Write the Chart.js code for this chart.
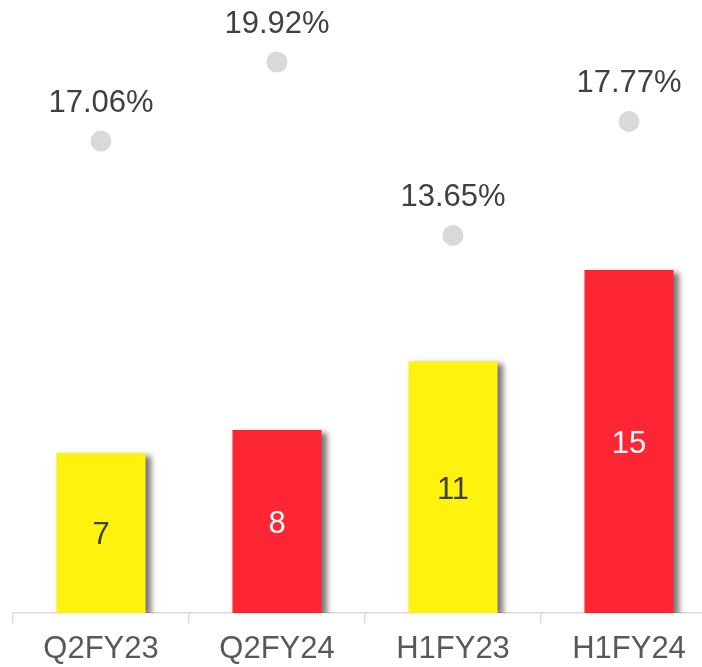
<!DOCTYPE html>
<html>
<head>
<meta charset="utf-8">
<script src="https://cdn.jsdelivr.net/npm/chart.js@4/dist/chart.umd.min.js"></script>
<style>
  html, body { margin: 0; padding: 0; overflow: hidden; background: #fff; }
  #wrap { position: absolute; left: 0; top: 0; width: 717px; height: 667px; }
</style>
</head>
<body>
<div id="wrap"><canvas id="chart"></canvas></div>
<script>
const categories = ["Q2FY23", "Q2FY24", "H1FY23", "H1FY24"];
const barValues = [7, 8, 11, 15];
const marginValues = [17.06, 19.92, 13.65, 17.77];
const barColors = ["#FFF20D", "#FF2633", "#FFF20D", "#FF2633"];
const barLabelColors = ["#404040", "#FFFFFF", "#404040", "#FFFFFF"];

const FONT = "'Liberation Sans', Arial, sans-serif";

// soft drop shadow under the bars
const barShadow = {
  id: "barShadow",
  beforeDatasetDraw(chart, args) {
    if (args.index !== 0) return;
    const ctx = chart.ctx;
    ctx.save();
    ctx.shadowColor = "rgba(0,0,0,0.55)";
    ctx.shadowBlur = 6;
    ctx.shadowOffsetX = 5;
    ctx.shadowOffsetY = 3;
  },
  afterDatasetDraw(chart, args) {
    if (args.index !== 0) return;
    chart.ctx.restore();
  }
};

const valueLabels = {
  id: "valueLabels",
  afterDatasetsDraw(chart) {
    const ctx = chart.ctx;
    ctx.save();
    ctx.font = "31px " + FONT;
    ctx.textAlign = "center";
    ctx.textBaseline = "middle";
    chart.getDatasetMeta(0).data.forEach((bar, i) => {
      ctx.fillStyle = barLabelColors[i];
      ctx.fillText(String(barValues[i]), bar.x, (bar.y + bar.base) / 2 + 3);
    });
    ctx.fillStyle = "#404040";
    chart.getDatasetMeta(1).data.forEach((pt, i) => {
      ctx.fillText(marginValues[i].toFixed(2) + "%", pt.x, pt.y - 38);
    });
    ctx.restore();
  }
};

new Chart(document.getElementById("chart"), {
  data: {
    labels: categories,
    datasets: [
      {
        type: "bar",
        data: barValues,
        backgroundColor: barColors,
        barPercentage: 0.506,
        categoryPercentage: 1,
        yAxisID: "y",
        order: 2
      },
      {
        type: "line",
        data: marginValues,
        showLine: false,
        pointRadius: 10.5,
        pointHoverRadius: 10.5,
        pointBackgroundColor: "#D9D9D9",
        pointBorderWidth: 0,
        yAxisID: "y1",
        order: 1
      }
    ]
  },
  options: {
    responsive: true,
    maintainAspectRatio: false,
    animation: false,
    layout: { autoPadding: false, padding: { left: 13, right: 0, top: 0, bottom: 0 } },
    plugins: { legend: { display: false }, tooltip: { enabled: false } },
    scales: {
      x: {
        offset: true,
        grid: { offset: true, drawOnChartArea: false, color: "#D9D9D9", tickLength: 10, lineWidth: 1.5 },
        border: { color: "#D9D9D9", width: 1.5 },
        ticks: { color: "#595959", font: { size: 31, family: FONT }, padding: 8 },
        afterFit(scale) { scale.height = 54; }
      },
      y: { display: false, min: 0, max: 26.8 },
      y1: { display: false, min: 0, max: 22.16 }
    }
  },
  plugins: [barShadow, valueLabels]
});
</script>
</body>
</html>
